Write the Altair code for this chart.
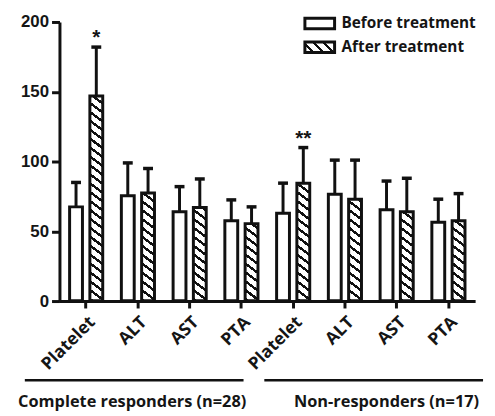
import json
import altair as alt
import pandas as pd

# ---------------- data ----------------
groups = ["Complete responders (n=28)", "Non-responders (n=17)"]
group_keys = ["CR", "NR"]
markers = ["Platelet", "ALT", "AST", "PTA"]
treatments = ["Before treatment", "After treatment"]

cr_before_mean = [67.5, 75.5, 64.0, 57.5]
cr_before_sd = [17.5, 23.5, 18.0, 15.0]
cr_after_mean = [147.0, 77.5, 67.0, 55.5]
cr_after_sd = [35.0, 17.5, 20.5, 12.0]
nr_before_mean = [63.0, 76.5, 65.5, 56.5]
nr_before_sd = [21.5, 24.5, 20.5, 16.5]
nr_after_mean = [84.5, 73.0, 64.0, 57.5]
nr_after_sd = [25.5, 28.0, 24.0, 19.5]
cr_after_sig = ["*", "", "", ""]
nr_after_sig = ["**", "", "", ""]
y_ticks = [0, 50, 100, 150, 200]

rows = []
series = {
    ("CR", "Before treatment"): (cr_before_mean, cr_before_sd, ["", "", "", ""]),
    ("CR", "After treatment"): (cr_after_mean, cr_after_sd, cr_after_sig),
    ("NR", "Before treatment"): (nr_before_mean, nr_before_sd, ["", "", "", ""]),
    ("NR", "After treatment"): (nr_after_mean, nr_after_sd, nr_after_sig),
}
keys = []
for gk in group_keys:
    for i, m in enumerate(markers):
        key = f"{gk}-{m}"
        keys.append(key)
        for t in treatments:
            mean, sd, sig = series[(gk, t)]
            rows.append({"key": key, "treatment": t, "mean": mean[i],
                         "upper": mean[i] + sd[i], "sig": sig[i]})
df = pd.DataFrame(rows)
after_df = df[df["treatment"] == "After treatment"]

# ---------------- style ----------------
W, H = 420, 282
INK = "#111111"
TXT = "#151515"
FONT = "Open Sans"
NUMFONT = "Liberation Sans"


def hatch(w, h, slope, period, frac, ink=INK, paper="white"):
    """Diagonal '\\' stripes as a linear gradient in bounding-box units."""
    a = slope * w / h
    c = (1 + a) / (a * a + 1)
    T = period / (h * (1 + a))
    stops = []
    k = 0
    while k * T < 1:
        s0 = k * T
        s1 = min(s0 + frac * T, 1)
        s2 = min((k + 1) * T, 1)
        stops += [{"offset": round(s0, 5), "color": ink},
                  {"offset": round(s1, 5), "color": ink},
                  {"offset": round(s1, 5), "color": paper},
                  {"offset": round(s2, 5), "color": paper}]
        k += 1
    return {"gradient": "linear", "x1": 1, "y1": 0,
            "x2": round(1 - c * a, 5), "y2": round(c, 5), "stops": stops}


def as_expr(obj):
    return json.dumps(obj)


bar_hatch = hatch(13, H, 0.75, 9, 0.34)
legend_hatch = hatch(30, 10.5, 1.0, 10, 0.34)

x_enc = alt.X(
    "key:N", sort=keys, title=None,
    scale=alt.Scale(domain=keys, paddingInner=0.36, paddingOuter=0.196),
    axis=alt.Axis(
        labelExpr="split(datum.value, '-')[1]", labelAngle=-45,
        labelAlign="right", labelBaseline="top", labelPadding=5,
        tickSize=7, tickWidth=3, tickColor=INK, domainWidth=3,
        domainColor=INK, labelFont=FONT, labelFontWeight="bold",
        labelFontSize=17.5, labelColor=TXT, grid=False),
)
xo_enc = alt.XOffset("treatment:N", sort=treatments,
                     scale=alt.Scale(domain=treatments, paddingInner=0.366,
                                     paddingOuter=0))
y_enc = alt.Y(
    "mean:Q", stack=None, title=None,
    scale=alt.Scale(domain=[0, 200], nice=False),
    axis=alt.Axis(values=y_ticks, tickSize=8, tickWidth=3, tickColor=INK,
                  domainWidth=3, domainColor=INK, labelFont=NUMFONT,
                  labelFontWeight="bold", labelFontSize=17, labelColor=TXT,
                  labelPadding=3, grid=False),
)

hatch_layer = alt.Chart(after_df).mark_bar(fill=bar_hatch, strokeWidth=0).encode(
    x=x_enc, xOffset=xo_enc, y=alt.value(0), y2=alt.value(H))

cover_layer = alt.Chart(after_df).mark_bar(
    fill="white", stroke="white", strokeWidth=2).encode(
    x=x_enc, xOffset=xo_enc, y=y_enc, y2=alt.value(0))

outline_layer = alt.Chart(df).mark_bar(stroke=INK, strokeWidth=3).encode(
    x=x_enc, xOffset=xo_enc, y=y_enc,
    fill=alt.condition(alt.datum.treatment == "After treatment",
                       alt.value("rgba(0,0,0,0)"), alt.value("white")),
)

legend = alt.Legend(
    title=None, orient="none", legendX=254, legendY=-7.5, padding=0,
    symbolType="M-2,-0.7H2V0.7H-2Z", symbolSize=225,
    symbolStrokeWidth=3, symbolStrokeColor=INK, symbolOpacity=1,
    labelOffset=13, rowPadding=0, labelFont=FONT, labelFontWeight="bold",
    labelFontSize=15.5, labelColor=TXT, labelLimit=300,
)
legend_layer = alt.Chart(df).mark_bar(stroke=INK, strokeWidth=3).encode(
    x=x_enc, xOffset=xo_enc, y=alt.value(H), y2=alt.value(H),
    fill=alt.Fill("treatment:N", sort=treatments,
                  scale=alt.Scale(domain=treatments,
                                  range=["white", {"expr": as_expr(legend_hatch)}]),
                  legend=legend),
)

err_layer = alt.Chart(df).mark_rule(color=INK, strokeWidth=3).encode(
    x=x_enc, xOffset=xo_enc, y=y_enc, y2="upper:Q")

cap_layer = alt.Chart(df).mark_tick(color=INK, size=10, thickness=3.5,
                                    opacity=1).encode(
    x=x_enc, xOffset=xo_enc, y=alt.Y("upper:Q"))

star_layer = alt.Chart(df).mark_text(
    font=NUMFONT, fontSize=21, fontWeight="bold", color=TXT, dy=-3,
    baseline="alphabetic").encode(
    x=x_enc, xOffset=xo_enc, y=alt.Y("upper:Q"), text="sig:N")

line_x0 = [-35, 207]
line_x1 = [186, 428]
label_cx = [73.5, 330.5]
annot = []
for i, g in enumerate(groups):
    gdf = pd.DataFrame({"group": [g]})
    annot.append(alt.Chart(gdf).mark_rule(color=INK, strokeWidth=2.5).encode(
        x=alt.value(line_x0[i]), x2=alt.value(line_x1[i]), y=alt.value(362)))
    annot.append(alt.Chart(gdf).mark_text(
        font=FONT, fontSize=16.5, fontWeight="bold", color=TXT,
        baseline="alphabetic", align="center").encode(
        x=alt.value(label_cx[i]), y=alt.value(389), text="group:N"))

chart = alt.layer(
    hatch_layer, cover_layer, outline_layer, legend_layer, err_layer,
    cap_layer, star_layer, *annot,
).properties(
    width=W, height=H,
    autosize=alt.AutoSizeParams(type="none"),
    padding={"left": 52, "top": 12, "right": 12, "bottom": 112},
).configure_view(stroke=None)

chart.save("out.html", embed_options={"renderer": "svg", "actions": False})
